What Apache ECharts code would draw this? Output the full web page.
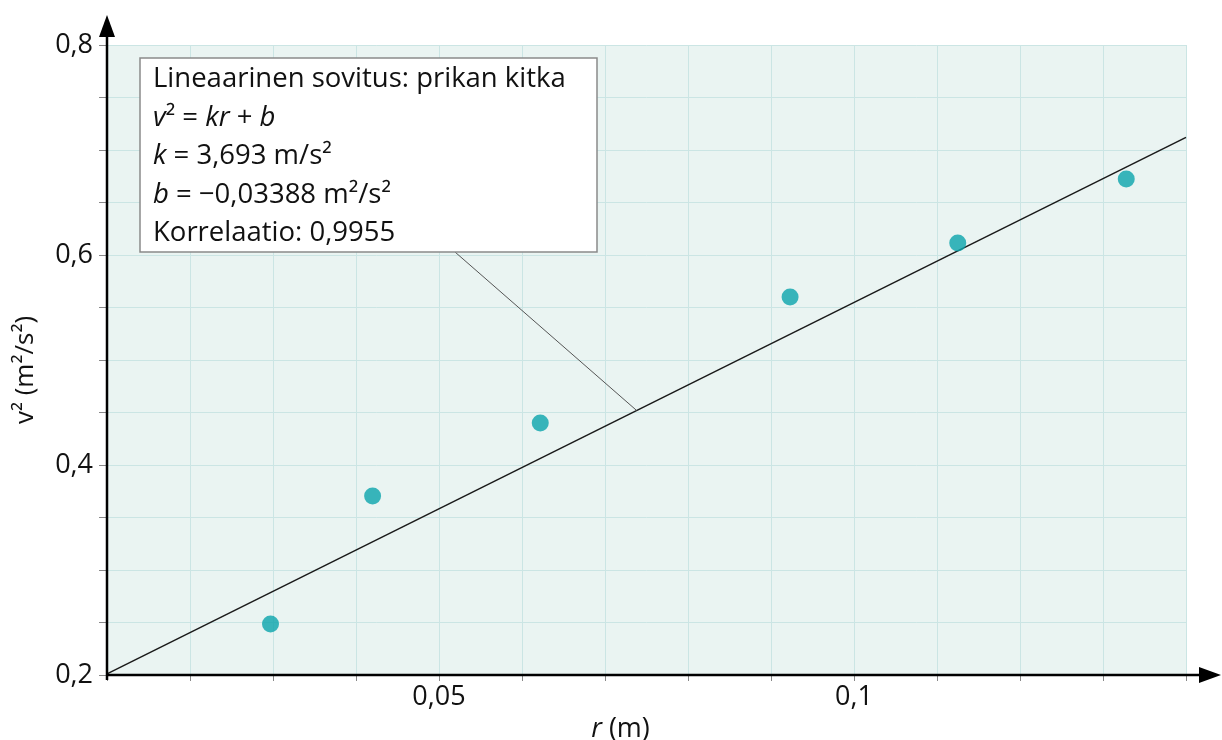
<!DOCTYPE html>
<html>
<head>
<meta charset="utf-8">
<script src="https://cdn.jsdelivr.net/npm/echarts@6/dist/echarts.min.js"></script>
<style>
html,body{margin:0;padding:0;background:#fff;}
#c{width:1222px;height:740px;}
</style>
</head>
<body>
<div id="c"></div>
<script>
// ---- data ----
const rValues  = [0.0297, 0.0420, 0.0622, 0.0923, 0.1125, 0.1328];
const v2Values = [0.2486, 0.3705, 0.4400, 0.5600, 0.6114, 0.6724];
const fitR  = [0.01, 0.14];
const fitV2 = [0.201, 0.712];
const xLabelValues = [0.05, 0.1];
const yLabelValues = [0.2, 0.4, 0.6, 0.8];
const leaderTarget = [0.0738, 0.452];
const boxLines = [
  'Lineaarinen sovitus: prikan kitka',
  '{i|v}² = {i|kr} + {i|b}',
  '{i|k} = 3,693 m/s²',
  '{i|b} = −0,03388 m²/s²',
  'Korrelaatio: 0,9955'
];

(function () {
const FONT = '"Open Sans", "Noto Sans", sans-serif';
const fmt = v => String(+v.toFixed(4)).replace('.', ',');
const isLabel = (arr, v) => arr.some(a => Math.abs(a - v) < 1e-6);

const chart = echarts.init(document.getElementById('c'), null, {renderer: 'canvas'});
const option = {
  animation: false,
  backgroundColor: '#ffffff',
  grid: {
    left: 107, right: 36, top: 45, bottom: 65,
    containLabel: false, outerBoundsMode: 'none',
    show: true, backgroundColor: '#eaf4f2', borderWidth: 0
  },
  xAxis: {
    type: 'value', min: 0.01, max: 0.14, interval: 0.01,
    name: '{i|r} (m)', nameLocation: 'middle', nameGap: 39,
    nameTextStyle: {
      fontFamily: FONT, fontSize: 27, color: '#111', padding: [0, 52, 0, 0],
      rich: { i: { fontFamily: FONT, fontSize: 27, fontStyle: 'italic', color: '#111' } }
    },
    axisLine: { show: false },
    axisTick: { show: true, length: 6, lineStyle: { color: '#888', width: 1 } },
    axisLabel: {
      fontFamily: FONT, fontSize: 27, color: '#111', margin: 9,
      formatter: v => isLabel(xLabelValues, v) ? fmt(v) : ''
    },
    splitLine: { show: true, lineStyle: { color: '#cbe5e4', width: 1 } }
  },
  yAxis: {
    type: 'value', min: 0.2, max: 0.8, interval: 0.05,
    name: 'v² (m²/s²)', nameLocation: 'middle', nameGap: 68, nameRotate: 90,
    nameTextStyle: { fontFamily: FONT, fontSize: 26, color: '#111', padding: [0, 20, 0, 0] },
    axisLine: { show: false },
    axisTick: { show: true, length: 8, lineStyle: { color: '#888', width: 1 } },
    axisLabel: {
      fontFamily: FONT, fontSize: 27, color: '#111', margin: 14,
      formatter: v => isLabel(yLabelValues, v) ? fmt(v) : ''
    },
    splitLine: { show: true, lineStyle: { color: '#cbe5e4', width: 1 } }
  },
  series: [
    {
      type: 'line', data: fitR.map((r, i) => [r, fitV2[i]]),
      symbol: 'none', lineStyle: { color: '#1a1a1a', width: 1.5 }, z: 3, silent: true
    },
    {
      type: 'scatter', data: rValues.map((r, i) => [r, v2Values[i]]),
      symbol: 'circle', symbolSize: 17, itemStyle: { color: '#0aa4ab' }, z: 4
    }
  ]
};
chart.setOption(option);

const P = (x, y) => chart.convertToPixel({gridIndex: 0}, [x, y]);
const o = P(0.01, 0.2);
const pTop = P(0.01, 0.8);
const pRight = P(0.14, 0.2);
const yTip = [o[0], pTop[1] - 30];
const xTip = [pRight[0] + 35, o[1]];
const lt = P(leaderTarget[0], leaderTarget[1]);
const boxX = 140, boxY = 58, boxW = 457, boxH = 194;

chart.setOption({
  graphic: [
    { type: 'line', z: 10, shape: { x1: o[0], y1: o[1] + 5, x2: yTip[0], y2: yTip[1] + 14 },
      style: { stroke: '#000', lineWidth: 2.5 } },
    { type: 'polygon', z: 10, shape: { points: [[yTip[0], yTip[1]], [yTip[0] - 8, yTip[1] + 22], [yTip[0] + 8, yTip[1] + 22]] },
      style: { fill: '#000' } },
    { type: 'line', z: 10, shape: { x1: o[0] - 1, y1: o[1], x2: xTip[0] - 14, y2: xTip[1] },
      style: { stroke: '#000', lineWidth: 2.5 } },
    { type: 'polygon', z: 10, shape: { points: [[xTip[0], xTip[1]], [xTip[0] - 22, xTip[1] - 8], [xTip[0] - 22, xTip[1] + 8]] },
      style: { fill: '#000' } },
    { type: 'line', z: 5, shape: { x1: 455, y1: boxY + boxH, x2: lt[0], y2: lt[1] },
      style: { stroke: '#555', lineWidth: 1 } },
    { type: 'rect', z: 6, shape: { x: boxX, y: boxY, width: boxW, height: boxH },
      style: { fill: '#ffffff', stroke: '#8a8a8a', lineWidth: 1.5 } },
    { type: 'text', z: 7, x: 153, y: boxY + 2,
      style: {
        text: boxLines.join('\n'),
        font: '27.5px ' + FONT, fill: '#111', lineHeight: 38.5,
        rich: { i: { fontStyle: 'italic', fontFamily: FONT, fontSize: 27.5, fill: '#111', lineHeight: 38.5 } }
      } }
  ]
});
})();
</script>
</body>
</html>
